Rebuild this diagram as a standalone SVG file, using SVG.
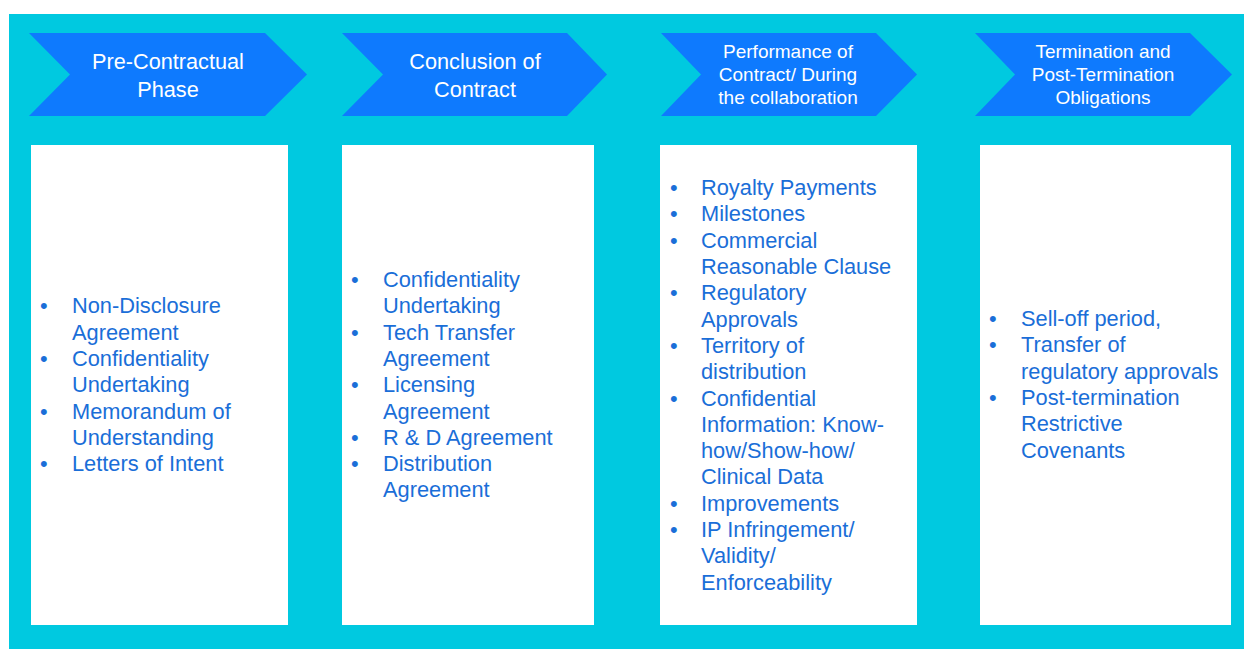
<svg xmlns="http://www.w3.org/2000/svg" width="1244" height="649" viewBox="0 0 1244 649">
<style>
.bg{fill:#00C9E0}
.chev{fill:#0E7AFE}
.box{fill:#FFFFFF}
.ht{font-family:"Liberation Sans",Arial,sans-serif;fill:#FFFFFF;text-anchor:middle}
.h1{font-size:21.7px}
.h2{font-size:19px}
.it{font-family:"Liberation Sans",Arial,sans-serif;font-size:21.8px;fill:#1A6ED8}
</style>
<rect x="0" y="0" width="1244" height="649" fill="#FFFFFF"/>
<rect class="bg" x="9" y="14" width="1235" height="635"/>
<g id="phase1">
<polygon class="chev" points="29,33 265,33 307,74.5 265,116 29,116 70,74.5"/>
<text class="ht h1" x="168" y="69">Pre-Contractual</text>
<text class="ht h1" x="168" y="97">Phase</text>
</g>
<g id="phase2">
<polygon class="chev" points="342,33 567,33 607,74.5 567,116 342,116 383,74.5"/>
<text class="ht h1" x="475" y="69">Conclusion of</text>
<text class="ht h1" x="475" y="97">Contract</text>
</g>
<g id="phase3">
<polygon class="chev" points="661,33 876,33 917,74.5 876,116 661,116 701,74.5"/>
<text class="ht h2" x="788" y="58">Performance of</text>
<text class="ht h2" x="788" y="81">Contract/ During</text>
<text class="ht h2" x="788" y="104">the collaboration</text>
</g>
<g id="phase4">
<polygon class="chev" points="975,33 1190,33 1232,74.5 1190,116 975,116 1015,74.5"/>
<text class="ht h2" x="1103" y="58">Termination and</text>
<text class="ht h2" x="1103" y="81">Post-Termination</text>
<text class="ht h2" x="1103" y="104">Obligations</text>
</g>
<g id="box1">
<rect class="box" x="31" y="145" width="257" height="480"/>
<text class="it" x="40" y="313">•</text><text class="it" x="72" y="313">Non-Disclosure</text>
<text class="it" x="72" y="339.5">Agreement</text>
<text class="it" x="40" y="366">•</text><text class="it" x="72" y="366">Confidentiality</text>
<text class="it" x="72" y="392">Undertaking</text>
<text class="it" x="40" y="418.5">•</text><text class="it" x="72" y="418.5">Memorandum of</text>
<text class="it" x="72" y="445">Understanding</text>
<text class="it" x="40" y="471">•</text><text class="it" x="72" y="471">Letters of Intent</text>
</g>
<g id="box2">
<rect class="box" x="342" y="145" width="252" height="480"/>
<text class="it" x="351" y="287">•</text><text class="it" x="383" y="287">Confidentiality</text>
<text class="it" x="383" y="313">Undertaking</text>
<text class="it" x="351" y="340">•</text><text class="it" x="383" y="340">Tech Transfer</text>
<text class="it" x="383" y="366">Agreement</text>
<text class="it" x="351" y="392">•</text><text class="it" x="383" y="392">Licensing</text>
<text class="it" x="383" y="419">Agreement</text>
<text class="it" x="351" y="445">•</text><text class="it" x="383" y="445">R &amp; D Agreement</text>
<text class="it" x="351" y="471">•</text><text class="it" x="383" y="471">Distribution</text>
<text class="it" x="383" y="497">Agreement</text>
</g>
<g id="box3">
<rect class="box" x="660" y="145" width="257" height="480"/>
<text class="it" x="670" y="195">•</text><text class="it" x="701" y="195">Royalty Payments</text>
<text class="it" x="670" y="221">•</text><text class="it" x="701" y="221">Milestones</text>
<text class="it" x="670" y="248">•</text><text class="it" x="701" y="248">Commercial</text>
<text class="it" x="701" y="274">Reasonable Clause</text>
<text class="it" x="670" y="300">•</text><text class="it" x="701" y="300">Regulatory</text>
<text class="it" x="701" y="327">Approvals</text>
<text class="it" x="670" y="353">•</text><text class="it" x="701" y="353">Territory of</text>
<text class="it" x="701" y="379">distribution</text>
<text class="it" x="670" y="406">•</text><text class="it" x="701" y="406">Confidential</text>
<text class="it" x="701" y="432">Information: Know-</text>
<text class="it" x="701" y="458">how/Show-how/</text>
<text class="it" x="701" y="484">Clinical Data</text>
<text class="it" x="670" y="511">•</text><text class="it" x="701" y="511">Improvements</text>
<text class="it" x="670" y="537">•</text><text class="it" x="701" y="537">IP Infringement/</text>
<text class="it" x="701" y="563">Validity/</text>
<text class="it" x="701" y="590">Enforceability</text>
</g>
<g id="box4">
<rect class="box" x="980" y="145" width="251" height="480"/>
<text class="it" x="989" y="326">•</text><text class="it" x="1021" y="326">Sell-off period,</text>
<text class="it" x="989" y="352">•</text><text class="it" x="1021" y="352">Transfer of</text>
<text class="it" x="1021" y="379">regulatory approvals</text>
<text class="it" x="989" y="405">•</text><text class="it" x="1021" y="405">Post-termination</text>
<text class="it" x="1021" y="431">Restrictive</text>
<text class="it" x="1021" y="458">Covenants</text>
</g>
<g id="connectors"></g>
</svg>
